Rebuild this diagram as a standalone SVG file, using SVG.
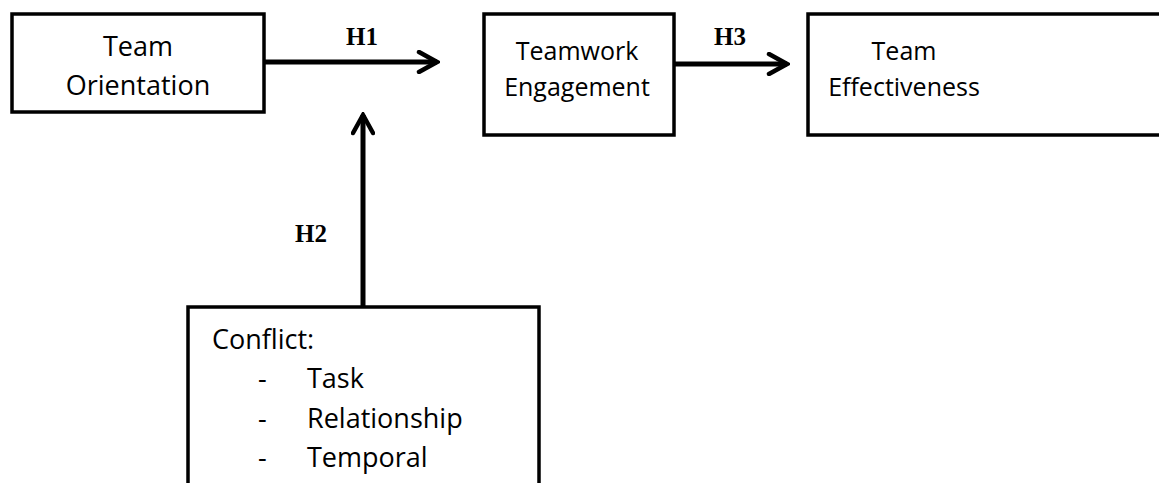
<svg xmlns="http://www.w3.org/2000/svg" width="1159" height="483" viewBox="0 0 1159 483">
<style>
.box{fill:#fff;stroke:#000;stroke-width:3.5}
.t{font-family:"Open Sans","Liberation Sans",sans-serif;font-size:27px;fill:#000}
.s{font-size:25px}
.h{font-family:"Liberation Serif",serif;font-weight:bold;font-size:25px;fill:#000}
.c{fill:none;stroke:#000;stroke-width:5}
</style>
<defs>
<marker id="arr" viewBox="0 0 24 24" refX="21" refY="12" markerWidth="24" markerHeight="24" markerUnits="userSpaceOnUse" orient="auto">
<path d="M3,2 L21,12 L3,22" fill="none" stroke="#000" stroke-width="4.5" stroke-linecap="round" stroke-linejoin="miter"/>
</marker>
</defs>
<g id="connectors">
<line class="c" x1="264" y1="62" x2="437" y2="62" marker-end="url(#arr)"/>
<line class="c" x1="363" y1="306" x2="363" y2="115" marker-end="url(#arr)"/>
<line class="c" x1="674" y1="64" x2="787" y2="64" marker-end="url(#arr)"/>
<text class="h" x="362" y="45" text-anchor="middle">H1</text>
<text class="h" x="311" y="242" text-anchor="middle">H2</text>
<text class="h" x="730" y="45" text-anchor="middle">H3</text>
</g>
<g id="team-orientation">
<rect class="box" x="12" y="14" width="252" height="98"/>
<text class="t" x="138" y="56" text-anchor="middle">Team</text>
<text class="t" x="138" y="95" text-anchor="middle">Orientation</text>
</g>
<g id="teamwork-engagement">
<rect class="box" x="484" y="14" width="190" height="121"/>
<text class="t s" x="577" y="60" text-anchor="middle">Teamwork</text>
<text class="t s" x="577" y="96" text-anchor="middle">Engagement</text>
</g>
<g id="team-effectiveness">
<rect class="box" x="808" y="14" width="370" height="121"/>
<text class="t s" x="904" y="60" text-anchor="middle">Team</text>
<text class="t s" x="904" y="96" text-anchor="middle">Effectiveness</text>
</g>
<g id="conflict">
<rect class="box" x="188" y="307" width="351" height="200"/>
<text class="t" x="212" y="349">Conflict:</text>
<text class="t" x="258" y="388">-</text>
<text class="t" x="307" y="388">Task</text>
<text class="t" x="258" y="428">-</text>
<text class="t" x="307" y="428">Relationship</text>
<text class="t" x="258" y="467">-</text>
<text class="t" x="307" y="467">Temporal</text>
</g>
</svg>
